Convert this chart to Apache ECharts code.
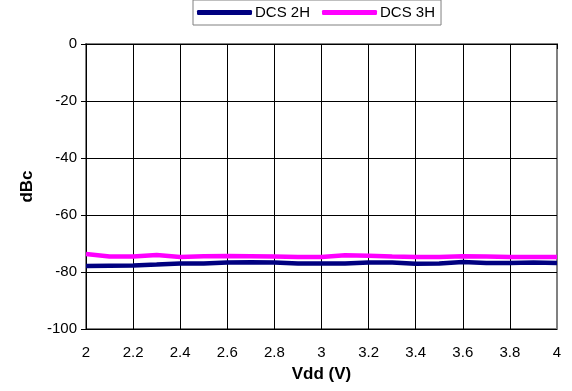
<!DOCTYPE html>
<html>
<head>
<meta charset="utf-8">
<script src="https://cdn.jsdelivr.net/npm/echarts@6/dist/echarts.min.js"></script>
<style>
html, body { margin: 0; padding: 0; background: #fff; }
#main { width: 572px; height: 391px; }
</style>
</head>
<body>
<div id="main"></div>
<script>
// supply voltage (V)
var vdd = [2.0, 2.1, 2.2, 2.3, 2.4, 2.5, 2.6, 2.7, 2.8, 2.9, 3.0,
	3.1, 3.2, 3.3, 3.4, 3.5, 3.6, 3.7, 3.8, 3.9, 4.0];
// harmonics, dBc
var dcs2h = [-77.9, -77.8, -77.7, -77.4, -77.0, -77.0, -76.7, -76.6, -76.7, -77.0, -77.0,
	-77.0, -76.7, -76.7, -77.1, -77.0, -76.5, -76.8, -76.8, -76.7, -76.8];
var dcs3h = [-73.7, -74.6, -74.6, -74.0, -74.7, -74.5, -74.4, -74.5, -74.6, -74.7, -74.7,
	-74.1, -74.3, -74.6, -74.7, -74.7, -74.5, -74.6, -74.7, -74.7, -74.7];
var seriesNames = ['DCS 2H', 'DCS 3H'];
var seriesColors = ['#000080', '#ff00ff'];

function pairs(ys){
	return vdd.map(function(x, i){ return [x, ys[i]]; });
}

var myChart = echarts.init(document.getElementById('main'));
var font = 'Liberation Sans, Arial, sans-serif';

var option = {
	animation: false,
	textStyle: {fontFamily: font},
	legend: {
		top: 0,
		left: 193,
		data: seriesNames,
		icon: 'roundRect',
		itemWidth: 55,
		itemHeight: 5,
		itemGap: 12,
		padding: [5, 6, 5, 4],
		borderColor: '#808080',
		borderWidth: 1,
		textStyle: {fontSize: 15, color: '#000', fontFamily: font, padding: [0, 0, 0, -2]}
	},
	grid: {
		left: 86,
		right: 15,
		top: 44,
		bottom: 62,
		show: true,
		borderColor: '#808080',
		borderWidth: 2
	},
	xAxis: {
		type: 'value',
		name: 'Vdd (V)',
		nameLocation: 'middle',
		nameGap: 37,
		nameTextStyle: {fontSize: 17, fontWeight: 'bold', color: '#000'},
		min: 2,
		max: 4,
		interval: 0.2,
		axisLine: {lineStyle: {color: '#000', width: 1}},
		axisTick: {show: true, length: 5, lineStyle: {color: '#000'}},
		axisLabel: {fontSize: 15, color: '#000', margin: 16},
		splitLine: {show: true, showMaxLine: false, lineStyle: {color: '#000', width: 1}}
	},
	yAxis: {
		type: 'value',
		name: 'dBc',
		nameLocation: 'middle',
		nameGap: 44,
		nameTextStyle: {fontSize: 17, fontWeight: 'bold', color: '#000'},
		min: -100,
		max: 0,
		interval: 20,
		axisLine: {show: true, lineStyle: {color: '#000', width: 1}},
		axisTick: {show: true, length: 5, lineStyle: {color: '#000'}},
		axisLabel: {fontSize: 15, color: '#000', margin: 9},
		splitLine: {show: true, showMaxLine: false, lineStyle: {color: '#000', width: 1}}
	},
	series: [
		{
			name: seriesNames[0],
			type: 'line',
			symbol: 'none',
			color: seriesColors[0],
			lineStyle: {width: 4.5, color: seriesColors[0]},
			data: pairs(dcs2h)
		},
		{
			name: seriesNames[1],
			type: 'line',
			symbol: 'none',
			color: seriesColors[1],
			lineStyle: {width: 4.5, color: seriesColors[1]},
			data: pairs(dcs3h)
		}
	]
};
myChart.setOption(option);
</script>
</body>
</html>
